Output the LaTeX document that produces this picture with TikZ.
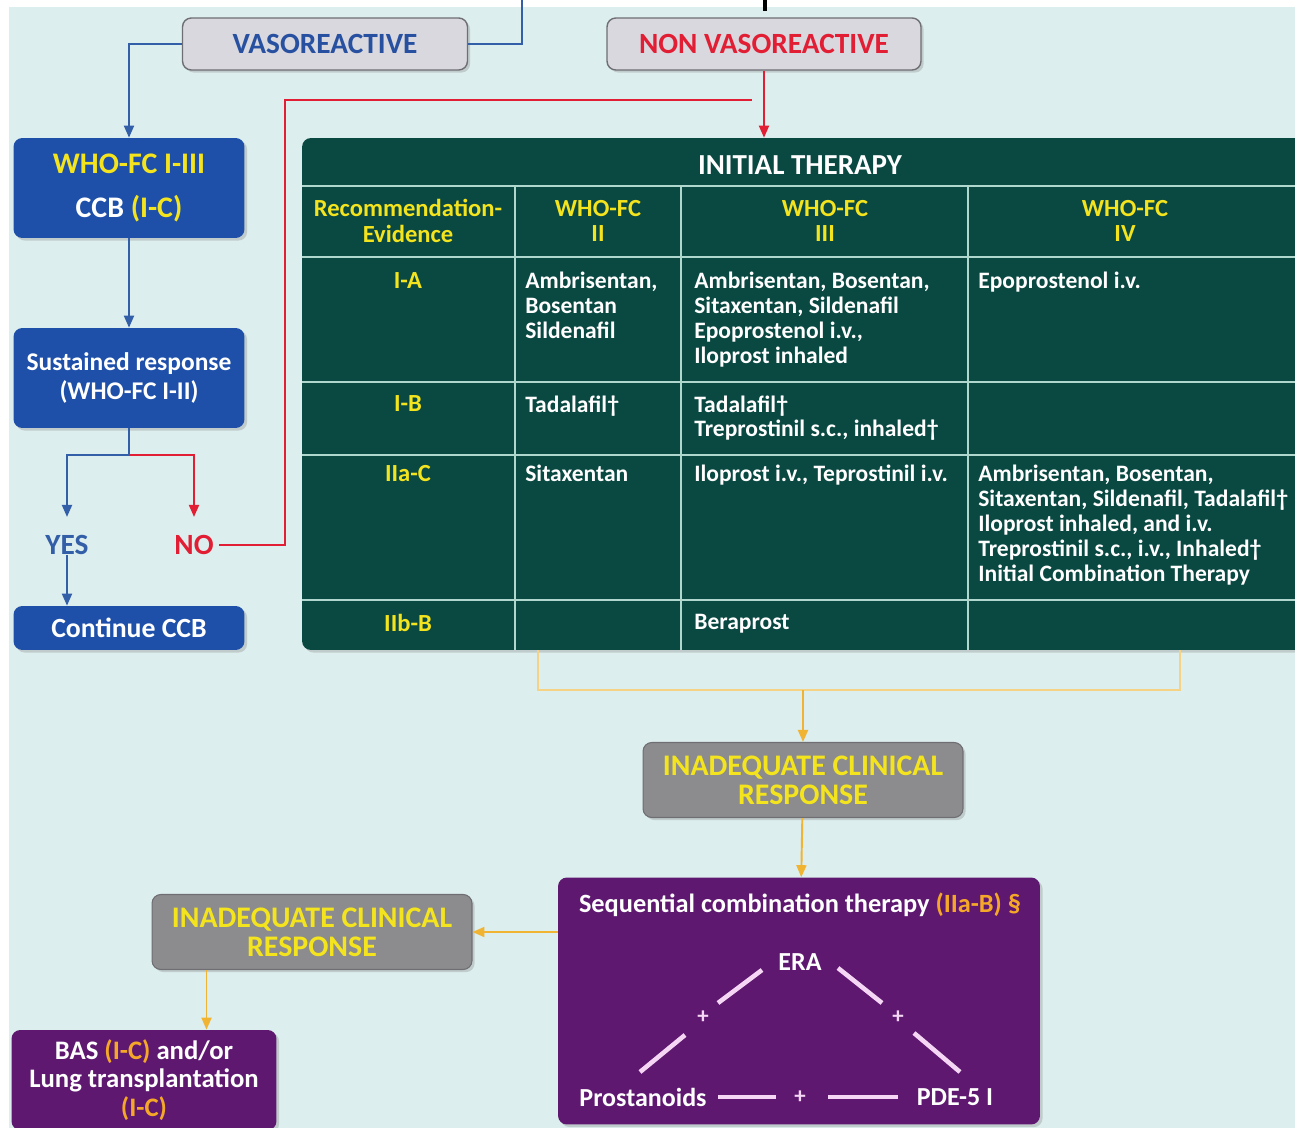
\documentclass[tikz,border=0pt]{standalone}
\usepackage{fontspec}
\setmainfont{Carlito}
\usetikzlibrary{arrows.meta,shadows}

\definecolor{bgcyan}{RGB}{221,238,238}
\definecolor{topgray}{RGB}{216,216,222}
\definecolor{edgegray}{RGB}{110,110,115}
\definecolor{vasoblue}{RGB}{40,80,160}
\definecolor{nonred}{RGB}{226,30,52}
\definecolor{boxblue}{RGB}{30,80,170}
\definecolor{lineblue}{RGB}{50,95,168}
\definecolor{tabgreen}{RGB}{10,72,66}
\definecolor{gridline}{RGB}{175,215,205}
\definecolor{ylw}{RGB}{244,228,30}
\definecolor{arrowyl}{RGB}{240,180,50}
\definecolor{boxgray}{RGB}{140,140,142}
\definecolor{purp}{RGB}{94,24,112}
\definecolor{lilac}{RGB}{245,215,245}
\definecolor{orng}{RGB}{245,168,40}

\begin{document}
\begin{tikzpicture}[x=0.02cm,y=-0.02cm,
  every node/.style={inner sep=0pt,font=\bfseries\fontsize{13.4}{14.2}\selectfont},
  boxshadow/.style={drop shadow={shadow xshift=1.5pt,shadow yshift=-1.5pt,opacity=0.3}},
  topbox/.style={draw=edgegray,line width=0.8pt,fill=topgray,rounded corners=5pt,boxshadow,minimum height=1.04cm,font=\bfseries\fontsize{16.7}{18}\selectfont},
  bluebox/.style={fill=boxblue,rounded corners=5pt,boxshadow,text=white,align=center,minimum width=4.62cm,minimum height=2cm,font=\bfseries\fontsize{14.5}{16.4}\selectfont},
  graybox/.style={draw=edgegray,line width=0.6pt,fill=boxgray,rounded corners=5pt,boxshadow,text=ylw,align=center,minimum width=6.4cm,minimum height=1.5cm,font=\bfseries\fontsize{17}{16.6}\selectfont},
  purplebox/.style={fill=purp,rounded corners=5pt,boxshadow,text=white,align=center,font=\bfseries\fontsize{15.2}{16.4}\selectfont},
  tabbox/.style={fill=tabgreen,rounded corners=5pt,boxshadow,minimum width=20.16cm,minimum height=10.24cm},
  gridrule/.style={draw=gridline,line width=1.1pt},
  colhead/.style={text=ylw,align=center,font=\bfseries\fontsize{14}{14.7}\selectfont},
  rowhead/.style={text=ylw,anchor=north,font=\bfseries\fontsize{14}{14.7}\selectfont},
  cell/.style={text=white,anchor=north west,align=left},
  label/.style={font=\bfseries\fontsize{16.7}{18}\selectfont},
  trilabel/.style={text=white,font=\bfseries\fontsize{14.8}{16}\selectfont},
  blueline/.style={draw=lineblue,line width=1.1pt},
  bluearrow/.style={blueline,-{Triangle[length=0.24cm,width=0.2cm]}},
  redline/.style={draw=nonred,line width=1.1pt},
  redarrow/.style={redline,-{Triangle[length=0.24cm,width=0.2cm]}},
  yline/.style={draw=arrowyl!60!white,line width=1pt},
  yarrow/.style={draw=arrowyl,line width=1.1pt,-{Triangle[length=0.24cm,width=0.2cm]}},
  triline/.style={draw=lilac,line width=2.6pt},
  plus/.style={text=lilac,font=\bfseries\fontsize{13}{14}\selectfont}
]
\useasboundingbox (0,0) rectangle (1295,1128);
\clip (0,0) rectangle (1295,1128);
\fill[white] (0,0) rectangle (1295,1128);
\fill[bgcyan] (9,7) rectangle (1295,1128);

\node[topbox,minimum width=5.7cm,text=vasoblue] (vaso) at (325,44) {VASOREACTIVE};
\node[topbox,minimum width=6.28cm,text=nonred] (nonvaso) at (764,44) {NON VASOREACTIVE};
\coordinate (topv) at (522,0);
\coordinate (topn) at (765,0);
\draw[line width=1.8pt] (topn) -- ++(0,11);

\node[bluebox,font=\bfseries\fontsize{17}{19}\selectfont] (ccb) at (129,188) {\textcolor{ylw}{WHO-FC I-III}\\[6pt]CCB \textcolor{ylw}{(I-C)}};
\node[bluebox] (sust) at (129,378) {Sustained response\\(WHO-FC I-II)};
\node[bluebox,minimum height=0.88cm,font=\bfseries\fontsize{15.8}{17}\selectfont] (cont) at (129,628) {Continue CCB};
\node[label,text=lineblue] (yes) at (67,545) {YES};
\node[label,text=nonred] (no) at (194,545) {NO};

\node[tabbox] (tab) at (806,394) {};
\foreach \y in {186,257,382,455,600}
  \draw[gridrule] (302,\y) -- (1295,\y);
\foreach \x in {515,681,968}
  \draw[gridrule] (\x,186) -- (\x,650);
\node[text=white,font=\bfseries\fontsize{16.5}{18}\selectfont] (hdr) at (800,165) {INITIAL THERAPY};
\node[colhead] (hrec) at (408,221) {Recommendation-\\Evidence};
\node[colhead] (hii) at (598,221) {WHO-FC\\II};
\node[colhead] (hiii) at (825,221) {WHO-FC\\III};
\node[colhead] (hiv) at (1125,221) {WHO-FC\\IV};
\node[rowhead] (rIA) at (408,272) {I-A};
\node[rowhead] (rIB) at (408,395) {I-B};
\node[rowhead] (rIIaC) at (408,465) {IIa-C};
\node[rowhead] (rIIbB) at (408,614) {IIb-B};
\node[cell] (cIAii) at (525,272) {Ambrisentan,\\Bosentan\\Sildenafil};
\node[cell] (cIAiii) at (694,272) {Ambrisentan, Bosentan,\\Sitaxentan, Sildenafil\\Epoprostenol i.v.,\\Iloprost inhaled};
\node[cell] (cIAiv) at (978,272) {Epoprostenol i.v.};
\node[cell] (cIBii) at (525,395) {Tadalafil†};
\node[cell] (cIBiii) at (694,395) {Tadalafil†\\Treprostinil s.c., inhaled†};
\node[cell] (cIIaCii) at (525,465) {Sitaxentan};
\node[cell] (cIIaCiii) at (694,465) {Iloprost i.v., Teprostinil i.v.};
\node[cell] (cIIaCiv) at (978,465) {Ambrisentan, Bosentan,\\Sitaxentan, Sildenafil, Tadalafil†\\Iloprost inhaled, and i.v.\\Treprostinil s.c., i.v., Inhaled†\\Initial Combination Therapy};
\node[cell] (cIIbBiii) at (694,614) {Beraprost};

\node[graybox] (inad1) at (803,780) {INADEQUATE CLINICAL\\RESPONSE};
\node[purplebox,minimum width=9.64cm,minimum height=4.94cm] (seq) at (799,1001) {};
\node[text=white,font=\bfseries\fontsize{15}{16}\selectfont] (seqtitle) at (800,905) {Sequential combination therapy \textcolor{orng}{(IIa-B) §}};
\node[trilabel] (era) at (800,962) {ERA};
\node[trilabel] (pros) at (643,1097) {Prostanoids};
\node[trilabel] (pde) at (955,1097) {PDE-5 I};
\node[plus] (plusl) at (703,1017) {+};
\node[plus] (plusr) at (898,1017) {+};
\node[plus] (plusb) at (800,1097) {+};
\draw[triline] (plusl) ++(15,-14) -- ++(44,-33);
\draw[triline] (plusl) ++(-18,18) -- ++(-45,37);
\draw[triline] (plusr) ++(-16,-14) -- ++(-44,-35);
\draw[triline] (plusr) ++(16,16) -- ++(46,39);
\draw[triline] (plusb) ++(-24,0) -- ++(-58,0);
\draw[triline] (plusb) ++(28,0) -- ++(70,0);

\node[graybox] (inad2) at (312,932) {INADEQUATE CLINICAL\\RESPONSE};
\node[purplebox,minimum width=5.3cm,minimum height=2cm] (bas) at (144,1080) {BAS \textcolor{orng}{(I-C)} and/or\\Lung transplantation\\\textcolor{orng}{(I-C)}};

\draw[blueline] (vaso.east) -| (topv);
\draw[bluearrow] (vaso.west) -| (ccb.north);
\draw[bluearrow] (ccb) -- (sust);
\draw[blueline] (sust.south) -- ++(0,27) coordinate (split);
\draw[bluearrow,shorten >=0.36cm] (split) -| (yes.north);
\draw[redarrow,shorten >=0.36cm] (split) -| (no.north);
\draw[bluearrow] (yes.south) -- (yes.south |- cont.north);
\coordinate (rcorner) at (285,100);
\coordinate (rend) at (752,100);
\draw[redline,shorten <=3pt] (no.east) -| (rcorner) -- (rend);
\draw[redarrow] (nonvaso.south) -- (nonvaso.south |- tab.north);

\coordinate (bl) at (538,690);
\coordinate (br) at (1180,690);
\draw[yline] (tab.south -| bl) -- (bl) -- (br) -- (tab.south -| br);
\draw[yarrow] (inad1 |- bl) -- (inad1.north);
\draw[yarrow] (inad1) -- (seq);
\draw[yarrow] (seq.west |- inad2) -- (inad2.east);
\draw[yarrow] (inad2.south west) ++(55,0) coordinate (d) -- (d |- bas.north);
\end{tikzpicture}
\end{document}
